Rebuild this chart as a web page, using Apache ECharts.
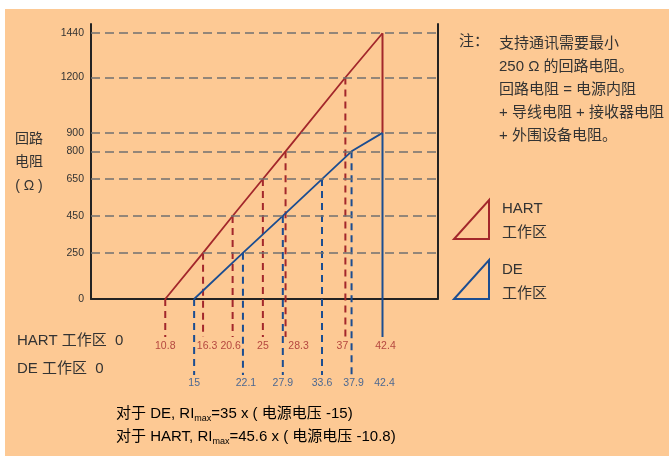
<!DOCTYPE html>
<html>
<head>
<meta charset="utf-8">
<script src="https://cdn.jsdelivr.net/npm/echarts@6/dist/echarts.min.js"></script>
<style>
  html, body { margin: 0; padding: 0; background: #fff; }
  #chart { width: 669px; height: 456px; }
</style>
</head>
<body>
<div id="chart"></div>
<script>
// 回路电阻 - 电源电压 工作区
const yTicks = [0, 250, 450, 650, 800, 900, 1200, 1440]
const hartVolt = [10.8, 16.3, 20.6, 25, 28.3, 37, 42.4]
const hartOhm = [0, 250, 450, 650, 800, 1200, 1440]
const deVolt = [15, 22.1, 27.9, 33.6, 37.9, 42.4]
const deOhm = [0, 250, 450, 650, 800, 900]

const RED = '#a3272b'
const BLUE = '#1b4d91'
const TEXT = '#333'
const FONT = '"Liberation Sans", Arial, "Noto Sans CJK SC", sans-serif'

// 刻度线在轴下方延伸到的位置（数值坐标）
const redEnd = -206
const blueEnd = -412
const redRow = -255
const blueRow = -455
// 个别标签左右挪一点，避免压线
const redShift = { 16.3: 4, 20.6: -2, 28.3: 13, 37: -3, 42.4: 3 }
const blueShift = { 22.1: 3, 37.9: 2, 42.4: 2 }

const chart = echarts.init(document.getElementById('chart'))

function drop(x, y0, y1, color, dashed) {
  return {
    type: 'line',
    data: [[x, y0], [x, y1]],
    showSymbol: false,
    clip: false,
    silent: true,
    z: 2,
    lineStyle: { color: color, width: 2, type: dashed ? [7, 5] : 'solid' }
  }
}

function tags(xs, row, color, shift) {
  return {
    type: 'scatter',
    symbolSize: 0,
    clip: false,
    silent: true,
    z: 5,
    data: xs.map((x) => ({
      value: [x, row],
      label: { offset: [shift[x] || 0, 0] }
    })),
    label: {
      show: true,
      position: [0, 0],
      align: 'center',
      verticalAlign: 'middle',
      color: color,
      textBorderWidth: 0,
      fontSize: 10.5,
      fontFamily: FONT,
      formatter: (p) => String(p.value[0])
    }
  }
}

const series = [
  {
    type: 'line',
    name: 'HART',
    data: hartVolt.map((x, i) => [x, hartOhm[i]]),
    showSymbol: false,
    z: 3,
    lineStyle: { color: RED, width: 1.8 },
    markLine: {
      silent: true,
      symbol: 'none',
      label: { show: false },
      lineStyle: { color: '#707070', width: 1.5, type: [9, 5] },
      data: yTicks.filter((v) => v > 0).map((v) => ({ yAxis: v }))
    }
  },
  {
    type: 'line',
    name: 'DE',
    data: deVolt.map((x, i) => [x, deOhm[i]]),
    showSymbol: false,
    z: 3,
    lineStyle: { color: BLUE, width: 1.8 }
  }
]

const hLast = hartVolt.length - 1
const dLast = deVolt.length - 1
hartVolt.forEach((x, i) => {
  if (i < hLast) series.push(drop(x, hartOhm[i], redEnd, RED, true))
})
deVolt.forEach((x, i) => {
  if (i < dLast) series.push(drop(x, deOhm[i], blueEnd, BLUE, true))
})
// 42.4 处的实线
series.push(drop(hartVolt[hLast], hartOhm[hLast], deOhm[dLast], RED, false))
series.push(drop(deVolt[dLast], deOhm[dLast], redEnd, BLUE, false))
series.push(tags(hartVolt, redRow, RED, redShift))
series.push(tags(deVolt, blueRow, BLUE, blueShift))

const axisLine = { show: true, onZero: false, lineStyle: { color: '#222', width: 2 } }

const subRich = {
  a: { fontSize: 15, color: TEXT, fontFamily: FONT, lineHeight: 18 },
  s: { fontSize: 9, color: TEXT, fontFamily: FONT, lineHeight: 9, verticalAlign: 'bottom' }
}

const options = {
  animation: false,
  backgroundColor: '#fff',
  grid: { left: 91, right: 231.5, top: 24, bottom: 157 },
  xAxis: {
    type: 'value',
    min: 0,
    max: 50.4,
    axisLine: axisLine,
    axisTick: { show: false },
    axisLabel: { show: false },
    splitLine: { show: false }
  },
  yAxis: [
    {
      type: 'value',
      min: 0,
      max: 1490,
      axisLine: axisLine,
      axisTick: { show: false },
      splitLine: { show: false },
      axisLabel: {
        customValues: yTicks,
        formatter: (v) => String(v),
        color: TEXT,
        fontSize: 10.5,
        fontFamily: FONT,
        margin: 7
      }
    },
    {
      type: 'value',
      position: 'right',
      min: 0,
      max: 1490,
      axisLine: axisLine,
      axisTick: { show: false },
      axisLabel: { show: false },
      splitLine: { show: false }
    }
  ],
  graphic: [
    {
      type: 'rect',
      z: -10,
      silent: true,
      shape: { x: 5, y: 9, width: 664, height: 447 },
      style: { fill: '#fdc994' }
    },
    {
      type: 'text',
      x: 29,
      y: 127,
      style: {
        text: '回路\n电阻\n( Ω )',
        fill: TEXT,
        font: '14px ' + FONT,
        lineHeight: 23.5,
        align: 'center'
      }
    },
    {
      type: 'text',
      x: 17,
      y: 333,
      style: { text: 'HART 工作区  0', fill: TEXT, font: '15px ' + FONT }
    },
    {
      type: 'text',
      x: 17,
      y: 361,
      style: { text: 'DE 工作区  0', fill: TEXT, font: '15px ' + FONT }
    },
    {
      type: 'text',
      x: 459,
      y: 34,
      style: { text: '注：', fill: TEXT, font: '15px ' + FONT }
    },
    {
      type: 'text',
      x: 499,
      y: 32,
      style: {
        text: '支持通讯需要最小\n250 Ω 的回路电阻。\n回路电阻 = 电源内阻\n+ 导线电阻 + 接收器电阻\n+ 外围设备电阻。',
        fill: TEXT,
        font: '15px ' + FONT,
        lineHeight: 23
      }
    },
    {
      type: 'polygon',
      shape: { points: [[454, 239], [489, 239], [489, 200]] },
      style: { fill: 'none', stroke: RED, lineWidth: 2 }
    },
    {
      type: 'polygon',
      shape: { points: [[454, 299], [489, 299], [489, 260]] },
      style: { fill: 'none', stroke: BLUE, lineWidth: 2 }
    },
    {
      type: 'text',
      x: 502,
      y: 197,
      style: { text: 'HART\n工作区', fill: TEXT, font: '15px ' + FONT, lineHeight: 24 }
    },
    {
      type: 'text',
      x: 502,
      y: 258,
      style: { text: 'DE\n工作区', fill: TEXT, font: '15px ' + FONT, lineHeight: 24 }
    },
    {
      type: 'text',
      x: 116,
      y: 405,
      style: {
        text: '{a|对于 DE, RI}{s|max}{a|=35 x ( 电源电压 -15)}',
        rich: subRich
      }
    },
    {
      type: 'text',
      x: 116,
      y: 428,
      style: {
        text: '{a|对于 HART, RI}{s|max}{a|=45.6 x ( 电源电压 -10.8)}',
        rich: subRich
      }
    }
  ],
  series: series
}

chart.setOption(options)
</script>
</body>
</html>
